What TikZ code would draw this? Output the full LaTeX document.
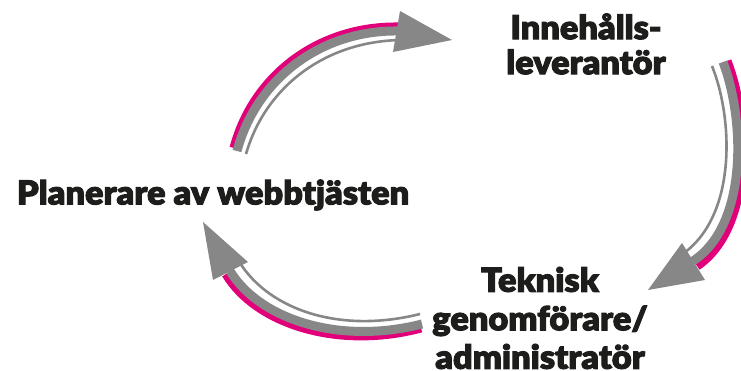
\documentclass[tikz,border=0pt]{standalone}
\usepackage{fontspec}
\setmainfont{Lato}[UprightFont={* Black},BoldFont={* Black},FakeBold=3,FakeStretch=1.04]
\usepackage{tikz}
\definecolor{cycgray}{HTML}{878787}
\definecolor{cycpink}{HTML}{E2007A}
\definecolor{cycink}{HTML}{1D1D1B}
\tikzset{
  role/.style={align=center,inner sep=0pt,text=cycink,font=\fontsize{33}{37}\selectfont},
  shade/.style={draw=cycpink,line width=9pt},
  band/.style={draw=cycgray,line width=9pt},
  rail/.style={draw=cycgray,line width=2.6pt},
  head/.style={fill=cycgray},
}

\begin{document}
\begin{tikzpicture}[x=1pt,y=-1pt]
\useasboundingbox (0,0) rectangle (741,371);
% the three roles
\node[role] (planner) at (213,195) {Planerare av webbtjästen};
\node[role,font=\fontsize{33}{35}\selectfont] (content) at (586,44) {Innehålls-\\leverantör};
\node[role,font=\fontsize{33}{38.5}\selectfont] (tech) at (540,318) {Teknisk\\genomförare/\\administratör};
% arrow ends
\coordinate (a1s) at (237,151); \coordinate (a1e) at (398,31);
\coordinate (a2s) at (723,62);  \coordinate (a2e) at (693,261);
\coordinate (a3s) at (422,324); \coordinate (a3e) at (230,271);
% planner -> content
\draw[shade] (234,148) .. controls (253,76) and (318,26) .. (398,27);
\draw[band] (a1s) .. controls (256,80) and (320,30) .. (a1e);
\draw[rail] (246,154) .. controls (265,88) and (324,41) .. (402,40);
\fill[head] (452,40) -- (400,11) -- (393,52) -- cycle;
% content -> tech
\draw[shade] (727,61) .. controls (750,120) and (753,228) .. (697,266);
\draw[band] (a2s) .. controls (745,120) and (748,225) .. (a2e);
\draw[rail] (712,66) .. controls (733,118) and (737,214) .. (684,253);
\fill[head] (648,290) -- (682,243) -- (705,280) -- cycle;
% tech -> planner
\draw[shade] (421,328) .. controls (338,350) and (256,324) .. (226,274);
\draw[band] (a3s) .. controls (340,345) and (260,320) .. (a3e);
\draw[rail] (420,314) .. controls (340,334) and (270,310) .. (240,263);
\fill[head] (203,222) -- (213,280) -- (248,262) -- cycle;
\end{tikzpicture}
\end{document}
